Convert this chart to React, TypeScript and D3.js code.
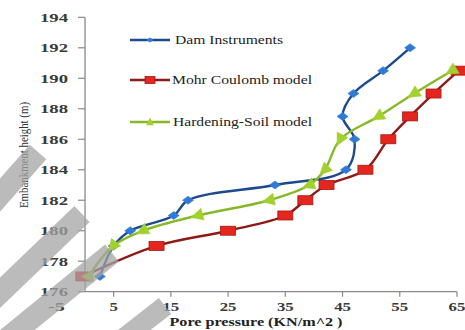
import React from "react";
import * as d3 from "d3";

// ---- data ----
const damX = [2.6, 5, 7.9, 15.5, 18, 33.2, 45.6, 47.1, 45, 46.9, 52.1, 56.8];
const damY = [177, 179, 180, 181, 182, 183, 184, 186, 187.5, 189, 190.5, 192];
const mohrX = [-0.3, 12.5, 25, 35, 38.5, 42.2, 49, 53, 56.8, 60.9, 65.3];
const mohrY = [177, 179, 180, 181, 182, 183, 184, 186, 187.5, 189, 190.5];
const hsX = [0.6, 4.9, 10.1, 19.7, 32.2, 39.2, 41.9, 44.6, 51.3, 57.5, 64.1];
const hsY = [177, 179, 180, 181, 182, 183, 184, 186, 187.5, 189, 190.5];
const xTickLabels = [-5, 5, 15, 25, 35, 45, 55, 65];
const yTickLabels = [176, 178, 180, 182, 184, 186, 188, 190, 192, 194];
const seriesNames = ["Dam Instruments", "Mohr Coulomb model", "Hardening-Soil model"];

// decorative watermark stripes (start, end, width)
const stripes = [
  [-15, 212, 38, 152, 22],
  [-20, 312, 82, 214, 22],
  [5, 340, 112, 253, 22],
  [115, 345, 165, 306, 20],
];

const W = 465;
const H = 330;
const SERIF = "Liberation Serif, Times New Roman, DejaVu Serif, serif";

export default function App() {
  const x = d3.scaleLinear().domain([-5, 65]).range([56.4, 457]);
  const y = d3.scaleLinear().domain([176, 194]).range([291.7, 17.3]);
  const line = d3
    .line<[number, number]>()
    .x((d) => x(d[0]))
    .y((d) => y(d[1]))
    .curve(d3.curveCatmullRom.alpha(0.5));

  const dam = damX.map((v, i) => [v, damY[i]] as [number, number]);
  const mohr = mohrX.map((v, i) => [v, mohrY[i]] as [number, number]);
  const hs = hsX.map((v, i) => [v, hsY[i]] as [number, number]);

  const blueLine = "#1d4a8c";
  const blueFill = "#2f7ad6";
  const redLine = "#8e1a18";
  const redFill = "#e5261f";
  const greenLine = "#86b928";
  const greenFill = "#a2d12e";
  const axisCol = "#8a8a8a";
  const ts = { fontFamily: SERIF };

  const tri = (cx: number, cy: number, ang: number, s: number) => {
    const pts = [
      [s * 0.65, 0],
      [-s * 0.45, -s * 0.55],
      [-s * 0.45, s * 0.55],
    ].map(([px, py]) => {
      const c = Math.cos(ang), sn = Math.sin(ang);
      return [cx + px * c - py * sn, cy + px * sn + py * c].join(",");
    });
    return pts.join(" ");
  };

  const x0 = x(0);
  const legendY = [40, 80, 122];

  return (
    <svg
      width={W}
      height={H}
      style={{ position: "absolute", left: 0, top: 0, background: "#fff" }}
    >
      <rect width={W} height={H} fill="#fff" />
      {/* axes */}
      <line x1={x0} x2={x0} y1={y(194)} y2={y(176)} stroke={axisCol} strokeWidth={1.3} />
      <line x1={x0} x2={x(65)} y1={y(176)} y2={y(176)} stroke={axisCol} strokeWidth={1.3} />
      {yTickLabels.map((t) => (
        <g key={"y" + t}>
          <line x1={x0 - 7} x2={x0} y1={y(t)} y2={y(t)} stroke={axisCol} strokeWidth={1.2} />
          <text
            x={68}
            y={y(t) + 4.3}
            textAnchor="end"
            fontSize={12.5}
            fontWeight="bold"
            fill="#3a3a3a"
            style={ts}
            textLength={28}
            lengthAdjust="spacingAndGlyphs"
          >
            {t}
          </text>
        </g>
      ))}
      {xTickLabels.map((t) => (
        <g key={"x" + t}>
          {t > 0 && (
            <line x1={x(t)} x2={x(t)} y1={y(176)} y2={y(176) + 5} stroke={axisCol} strokeWidth={1.2} />
          )}
          <text
            x={x(t)}
            y={311}
            textAnchor="middle"
            fontSize={12.5}
            fontWeight="bold"
            fill="#3a3a3a"
            style={ts}
            textLength={String(t).length * 8.4}
            lengthAdjust="spacingAndGlyphs"
          >
            {t}
          </text>
        </g>
      ))}
      <text
        x={256}
        y={326}
        textAnchor="middle"
        fontSize={11.5}
        fontWeight="bold"
        fill="#222"
        style={ts}
        textLength={173}
        lengthAdjust="spacingAndGlyphs"
      >
        Pore pressure (KN/m^2 )
      </text>
      <text
        transform="translate(28,155) rotate(-90)"
        textAnchor="middle"
        fontSize={12}
        fill="#333"
        style={ts}
        textLength={106}
        lengthAdjust="spacingAndGlyphs"
      >
        Embankment height (m)
      </text>

      {/* series lines */}
      <path d={line(mohr) || ""} fill="none" stroke={redLine} strokeWidth={2.4} />
      <path d={line(dam) || ""} fill="none" stroke={blueLine} strokeWidth={2.4} />
      <path d={line(hs) || ""} fill="none" stroke={greenLine} strokeWidth={2.4} />

      {/* markers */}
      {mohr.map((d, i) => (
        <rect
          key={"m" + i}
          x={x(d[0]) - 7.5}
          y={y(d[1]) - 4.5}
          width={15}
          height={9}
          fill={redFill}
          stroke="#a31812"
          strokeWidth={0.8}
        />
      ))}
      {dam.map((d, i) => {
        const cx = x(d[0]), cy = y(d[1]);
        return (
          <polygon
            key={"d" + i}
            points={`${cx},${cy - 4} ${cx + 5.5},${cy} ${cx},${cy + 4} ${cx - 5.5},${cy}`}
            fill={blueFill}
            stroke={blueFill}
            strokeWidth={0.6}
          />
        );
      })}
      {hs.map((d, i) => {
        const cx = x(d[0]), cy = y(d[1]);
        let ang = Math.PI;
        if (i > 0) {
          const p = hs[i - 1];
          ang = Math.atan2(y(p[1]) - cy, x(p[0]) - cx);
        }
        return <polygon key={"h" + i} points={tri(cx, cy, ang, 11)} fill={greenFill} stroke={greenFill} strokeWidth={0.5} />;
      })}

      {/* legend */}
      {seriesNames.map((name, i) => {
        const ly = legendY[i];
        const col = [blueLine, redLine, greenLine][i];
        const widths = [108, 140, 139];
        const tx = [175, 172, 173];
        return (
          <g key={"l" + i}>
            <line x1={130} x2={170} y1={ly} y2={ly} stroke={col} strokeWidth={2.4} />
            {i === 0 && (
              <polygon points={`150,${ly - 2.5} 153.5,${ly} 150,${ly + 2.5} 146.5,${ly}`} fill={blueFill} />
            )}
            {i === 1 && (
              <rect x={145} y={ly - 3.5} width={10} height={7} fill={redFill} stroke="#a31812" strokeWidth={0.8} />
            )}
            {i === 2 && <polygon points={tri(150, ly, -Math.PI / 2, 7)} fill={greenFill} />}
            <text
              x={tx[i]}
              y={ly + 4}
              fontSize={12}
              fill="#222"
              style={ts}
              textLength={widths[i]}
              lengthAdjust="spacingAndGlyphs"
            >
              {name}
            </text>
          </g>
        );
      })}

      {/* watermark stripes */}
      {stripes.map(([ax, ay, bx, by, w], i) => (
        <line
          key={"s" + i}
          x1={ax}
          y1={ay}
          x2={bx}
          y2={by}
          stroke="#a4a4a4"
          strokeOpacity={0.75}
          strokeWidth={w}
        />
      ))}
    </svg>
  );
}
